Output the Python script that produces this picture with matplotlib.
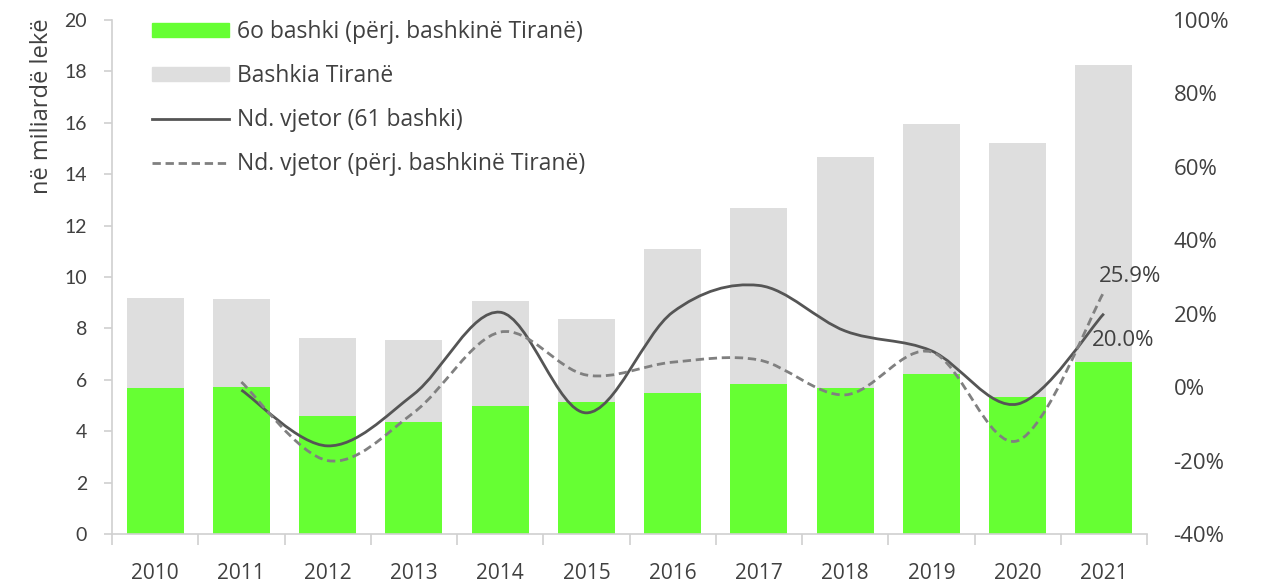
import numpy as np
import matplotlib
matplotlib.use("Agg")
import matplotlib.pyplot as plt
from matplotlib.path import Path
from matplotlib.patches import PathPatch, Patch
from matplotlib.lines import Line2D

years = ["2010", "2011", "2012", "2013", "2014", "2015", "2016", "2017", "2018", "2019", "2020", "2021"]
bashki60 = [5.67, 5.71, 4.58, 4.35, 4.97, 5.13, 5.48, 5.83, 5.67, 6.21, 5.32, 6.68]
total61 = [9.20, 9.13, 7.61, 7.53, 9.05, 8.35, 11.10, 12.70, 14.68, 15.96, 15.22, 18.25]
tirana = [t - b for t, b in zip(total61, bashki60)]
growth_years = years[1:]
growth61 = [-0.8, -16.0, -1.9, 20.4, -7.0, 20.4, 27.7, 15.3, 9.9, -4.6, 20.0]
growth_excl = [1.4, -20.0, -6.9, 15.0, 3.3, 6.8, 7.4, -2.1, 9.6, -14.6, 25.9]

plt.rcParams['font.family'] = ['Open Sans', 'DejaVu Sans']
TXT = '#404040'

fig = plt.figure(figsize=(12.74, 5.82), dpi=100)
ax = fig.add_axes([112/1274, 1-534/582, (1147-112)/1274, (534-20)/582])
x = np.arange(len(years))
w = 0.66
ax.bar(x, bashki60, w, color='#66FF33', zorder=2)
ax.bar(x, tirana, w, bottom=bashki60, color='#DEDEDE', zorder=2)
ax.set_xlim(-0.5, len(years)-0.5)
ax.set_ylim(0, 20)
ax.set_yticks(range(0, 21, 2))
ax.set_xticks(x)
ax.set_xticklabels(years)
ax.set_xticks(np.arange(-0.5, len(years), 1), minor=True)
ax.tick_params(axis='x', which='major', length=0, pad=21, labelsize=15, labelcolor=TXT)
ax.tick_params(axis='x', which='minor', length=8, width=1.2, color='#D0D0D0')
ax.tick_params(axis='y', length=6, width=1.2, color='#D0D0D0', pad=12, labelsize=14, labelcolor=TXT)
for lab in ax.get_yticklabels():
    lab.set_family(['Lato', 'DejaVu Sans'])
for s in ['top', 'right']:
    ax.spines[s].set_visible(False)
for s in ['left', 'bottom']:
    ax.spines[s].set_color('#D0D0D0')
    ax.spines[s].set_linewidth(1.2)
fig.text(42/1274, 1-106/582, 'në miliardë lekë', rotation=90, va='center', ha='center',
         fontsize=17, color=TXT)

ax2 = ax.twinx()
ax2.set_ylim(-40, 100)
ax2.set_yticks(range(-40, 101, 20))
ax2.set_yticklabels([f"{v}%" for v in range(-40, 101, 20)])
ax2.tick_params(axis='y', length=0, pad=19, labelsize=16, labelcolor=TXT)
for s in ax2.spines.values():
    s.set_visible(False)


def smooth_path(xs, ys):
    pts = np.column_stack([xs, ys]).astype(float)
    n = len(pts)
    verts = [pts[0]]
    codes = [Path.MOVETO]
    for i in range(n - 1):
        p0 = pts[i - 1] if i > 0 else pts[i]
        p1 = pts[i]
        p2 = pts[i + 1]
        p3 = pts[i + 2] if i + 2 < n else pts[i + 1]
        c1 = p1 + (p2 - p0) / 6.0
        c2 = p2 - (p3 - p1) / 6.0
        verts += [c1, c2, p2]
        codes += [Path.CURVE4] * 3
    return Path(verts, codes)


gx = np.arange(1, len(years))
solid_kw = dict(color='#555555', linewidth=2.0, linestyle='-')
dash_kw = dict(color='#808080', linewidth=2.0, linestyle=(0, (3.0, 1.7)))
ax2.add_patch(PathPatch(smooth_path(gx, growth61), fill=False, zorder=3, capstyle='butt', **solid_kw))
ax2.add_patch(PathPatch(smooth_path(gx, growth_excl), fill=False, zorder=3, capstyle='butt', **dash_kw))

ax2.annotate(f"{growth_excl[-1]:.1f}%", (gx[-1], growth_excl[-1]), xytext=(-5, 16),
             textcoords='offset pixels', ha='left', va='center', fontsize=16, color=TXT)
ax2.annotate(f"{growth61[-1]:.1f}%", (gx[-1], growth61[-1]), xytext=(-12, -27),
             textcoords='offset pixels', ha='left', va='center', fontsize=16, color=TXT)

handles = [Patch(color='#66FF33'), Patch(color='#DEDEDE'),
           Line2D([], [], **solid_kw), Line2D([], [], **dash_kw)]
labels = ["6o bashki (përj. bashkinë Tiranë)", "Bashkia Tiranë",
          "Nd. vjetor (61 bashki)", "Nd. vjetor (përj. bashkinë Tiranë)"]
leg = ax2.legend(handles, labels, loc='upper left', bbox_to_anchor=(152/1274, 1-20/582),
                 bbox_transform=fig.transFigure, frameon=False, fontsize=16.5,
                 handlelength=3.36, handleheight=0.61, handletextpad=0.35, labelspacing=0.88,
                 borderpad=0, borderaxespad=0)
for t in leg.get_texts():
    t.set_color(TXT)

fig.savefig('out.png', dpi=100)
